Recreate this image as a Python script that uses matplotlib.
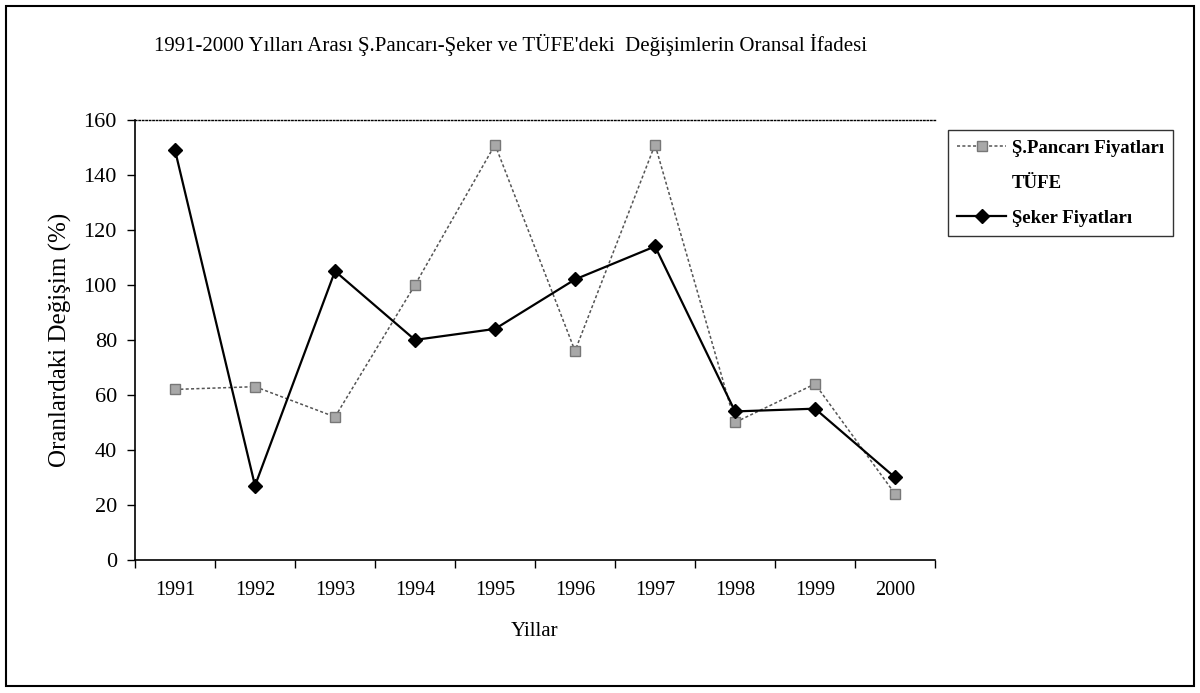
import numpy as np
import matplotlib.pyplot as plt
from matplotlib.patches import Rectangle

plt.rcParams['font.family'] = ['Liberation Serif', 'DejaVu Serif']

years = ['1991', '1992', '1993', '1994', '1995', '1996', '1997', '1998', '1999', '2000']
pancar = [62, 63, 52, 100, 151, 76, 151, 50, 64, 24]
seker = [149, 27, 105, 80, 84, 102, 114, 54, 55, 30]
tufe = []

x = np.arange(len(years))

fig = plt.figure(figsize=(12, 6.93), dpi=100)
ax = fig.add_axes([0.1125, 0.192, 0.6667, 0.635])

ax.plot(x, pancar, linestyle=(0, (2, 1.5)), linewidth=1.1, color='#555555',
        marker='s', markersize=7, markerfacecolor='#a8a8a8', markeredgecolor='#777777',
        label='Ş.Pancarı Fiyatları')
ax.plot(tufe, tufe, color='white', label='TÜFE')
ax.plot(x, seker, color='black', linewidth=1.6, marker='D', markersize=7,
        label='Şeker Fiyatları')

ax.set_xlim(-0.5, len(years) - 0.5)
ax.set_ylim(0, 160)
ax.set_yticks(np.arange(0, 161, 20))
ax.set_xticks(np.arange(-0.5, len(years), 1))
ax.set_xticklabels([])
ax.set_xticks(x, minor=True)
ax.set_xticklabels(years, minor=True)
ax.tick_params(axis='x', which='minor', length=0, pad=15, labelsize=14.5)
ax.tick_params(axis='x', which='major', length=6, direction='out', width=1)
ax.tick_params(axis='y', length=6, direction='out', width=1, labelsize=16, pad=7)

ax.spines['right'].set_visible(False)
ax.spines['top'].set_linestyle((0, (1, 1.5)))
ax.spines['top'].set_linewidth(1)
ax.spines['left'].set_linewidth(1.2)
ax.spines['bottom'].set_linewidth(1.2)

ax.set_xlabel('Yillar', fontsize=15, labelpad=16)
ax.set_ylabel('Oranlardaki Değişim (%)', fontsize=18, labelpad=8)

fig.text(0.425, 0.935, "1991-2000 Yılları Arası Ş.Pancarı-Şeker ve TÜFE'deki  Değişimlerin Oransal İfadesi",
         ha='center', va='center', fontsize=15)

leg = ax.legend(loc='upper left', bbox_to_anchor=(0.79, 0.812), bbox_transform=fig.transFigure,
                frameon=True, fancybox=False, prop={'size': 13.5, 'weight': 'bold'},
                handlelength=2.6, labelspacing=0.95, borderpad=0.5, handletextpad=0.3,
                borderaxespad=0)
leg.get_frame().set_edgecolor('black')
leg.get_frame().set_linewidth(1)

fig.patches.append(Rectangle((0.005, 0.01), 0.99, 0.982, transform=fig.transFigure,
                             fill=False, edgecolor='black', linewidth=1.5))

fig.savefig('out.png', dpi=100)
